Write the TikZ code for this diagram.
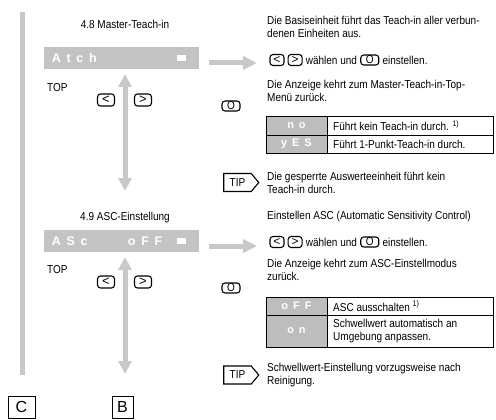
\documentclass[tikz,border=0pt]{standalone}
\usepackage{fontspec}
\setmainfont{Liberation Sans}[FakeStretch=0.87]
\newfontfamily\lcdfont{Liberation Sans}[LetterSpace=45]
\newfontfamily\plainfont{Liberation Sans}
\usetikzlibrary{positioning,arrows.meta,shapes.symbols}
\definecolor{lcdgrey}{HTML}{C3C3C3}
\definecolor{arrgrey}{HTML}{C8C8C8}
\definecolor{cellgrey}{HTML}{BDBDBD}
\tikzset{
  txt/.style={anchor=west,inner sep=0pt,font=\fontsize{11.5}{13}\selectfont,align=left},
  disp/.style={fill=lcdgrey,text=white,minimum height=22pt,text width=139pt,inner xsep=8pt,inner ysep=0pt,
    font=\lcdfont\bfseries\fontsize{12.5}{12.5}\selectfont},
  lcdtxt/.style={text=white,inner sep=0pt,font=\lcdfont\bfseries\fontsize{11}{11}\selectfont},
  key/.style={draw,line width=1.1pt,rounded corners=3pt,minimum width=17pt,minimum height=12pt,inner sep=0pt,
    font=\plainfont\fontsize{13}{13}\selectfont},
  smallkey/.style={key,minimum width=14pt,minimum height=11pt,font=\plainfont\fontsize{12}{12}\selectfont},
  okey/.style={key,minimum width=18pt,minimum height=10pt,font=\fontsize{11.5}{11.5}\selectfont},
  tiptag/.style={draw,line width=1.1pt,signal,signal to=east,signal pointer angle=100,minimum width=35pt,
    minimum height=18pt,inner xsep=2pt,inner ysep=0pt,font=\fontsize{11.5}{11.5}\selectfont},
  greyarr/.style={draw=arrgrey,line width=5pt,-{Triangle[length=14pt,width=13pt]}},
  greydbl/.style={greyarr,{Triangle[length=13pt,width=13pt]}-{Triangle[length=13pt,width=13pt]}},
  lbl/.style={draw,line width=.9pt,minimum height=22pt,inner sep=0pt,font=\plainfont\fontsize{16}{16}\selectfont}
}
\begin{document}
\begin{tikzpicture}[x=1pt,y=-1pt]
\useasboundingbox (0,0) rectangle (496,420);
\draw[arrgrey,line width=5pt] (22.5,12) -- (22.5,375);
% 4.8
\node[txt,anchor=center] (h48) at (125,24) {4.8 Master-Teach-in};
\node[disp] (atch) at (121.5,58) {Atch\hfill\rule[1pt]{9pt}{6.5pt}\hspace*{5pt}};
\coordinate (ra1) at (209,63); \coordinate (rb1) at (257,63);
\draw[greyarr] (ra1) -- (rb1);
\node[txt] (top1) at (47,88) {TOP};
\node[key] (kl1) at (106,100) {<};
\node[key] (kr1) at (143,100) {>};
\coordinate (up1) at (125,74); \coordinate (dn1) at (125,191);
\draw[greydbl] (up1) -- (dn1);
\node[okey] (ok1) at (231,106) {O};
\node[tiptag] (tip1) at (237.5,182.5) {TIP};
\node[txt,anchor=north west] (p11) at (267,16) {Die Basiseinheit führt das Teach-in aller verbun-\\denen Einheiten aus.};
\node[smallkey] (sl1) at (277,60) {<};
\node[smallkey,right=3pt of sl1] (sr1) {>};
\node[txt,right=3pt of sr1] (w1) {wählen und};
\node[okey,right=3pt of w1] (so1) {O};
\node[txt,right=3pt of so1] (e1) {einstellen.};
\node[txt,anchor=north west] (p12) at (267,80) {Die Anzeige kehrt zum Master-Teach-in-Top-\\Menü zurück.};
\fill[cellgrey] (266,116) rectangle (327,153);
\draw[line width=.7pt] (266,116) rectangle (493,153) (327,116) -- (327,153) (266,135) -- (493,135);
\node[lcdtxt] (no) at (296.5,125.5) {no};
\node[txt] (c11) at (333,125.5) {Führt kein Teach-in durch. \textsuperscript{1)}};
\node[lcdtxt] (yes) at (296.5,144) {yES};
\node[txt] (c12) at (333,144) {Führt 1-Punkt-Teach-in durch.};
\node[txt,anchor=north west] (p13) at (267,172) {Die gesperrte Auswerteeinheit führt kein\\Teach-in durch.};
% 4.9
\node[txt,anchor=center] (h49) at (125,218) {4.9 ASC-Einstellung};
\node[disp] (asc) at (121.5,241) {\makebox[76pt][l]{ASc}oFF\hfill\rule[1pt]{9pt}{6.5pt}\hspace*{5pt}};
\coordinate (ra2) at (209,246); \coordinate (rb2) at (257,246);
\draw[greyarr] (ra2) -- (rb2);
\node[txt] (top2) at (47,270) {TOP};
\node[key] (kl2) at (106,282) {<};
\node[key] (kr2) at (143,282) {>};
\coordinate (up2) at (125,257); \coordinate (dn2) at (125,374);
\draw[greydbl] (up2) -- (dn2);
\node[okey] (ok2) at (231,288) {O};
\node[tiptag] (tip2) at (237.5,375) {TIP};
\node[txt] (p21) at (267,217) {Einstellen ASC (Automatic Sensitivity Control)};
\node[smallkey] (sl2) at (277,242) {<};
\node[smallkey,right=3pt of sl2] (sr2) {>};
\node[txt,right=3pt of sr2] (w2) {wählen und};
\node[okey,right=3pt of w2] (so2) {O};
\node[txt,right=3pt of so2] (e2) {einstellen.};
\node[txt,anchor=north west] (p22) at (267,259) {Die Anzeige kehrt zum ASC-Einstellmodus\\zurück.};
\fill[cellgrey] (266,297) rectangle (327,347);
\draw[line width=.7pt] (266,297) rectangle (493,347) (327,297) -- (327,347) (266,315) -- (493,315);
\node[lcdtxt] (off) at (296.5,306) {oFF};
\node[txt] (c21) at (333,306) {ASC ausschalten \textsuperscript{1)}};
\node[lcdtxt] (on) at (296.5,331) {on};
\node[txt] (c22) at (333,331) {Schwellwert automatisch an\\Umgebung anpassen.};
\node[txt,anchor=north west] (p23) at (267,363) {Schwellwert-Einstellung vorzugsweise nach\\Reinigung.};
\node[lbl,minimum width=27pt] (cbox) at (21.5,407) {C};
\node[lbl,minimum width=21pt] (bbox) at (122.5,407) {B};
\end{tikzpicture}
\end{document}
